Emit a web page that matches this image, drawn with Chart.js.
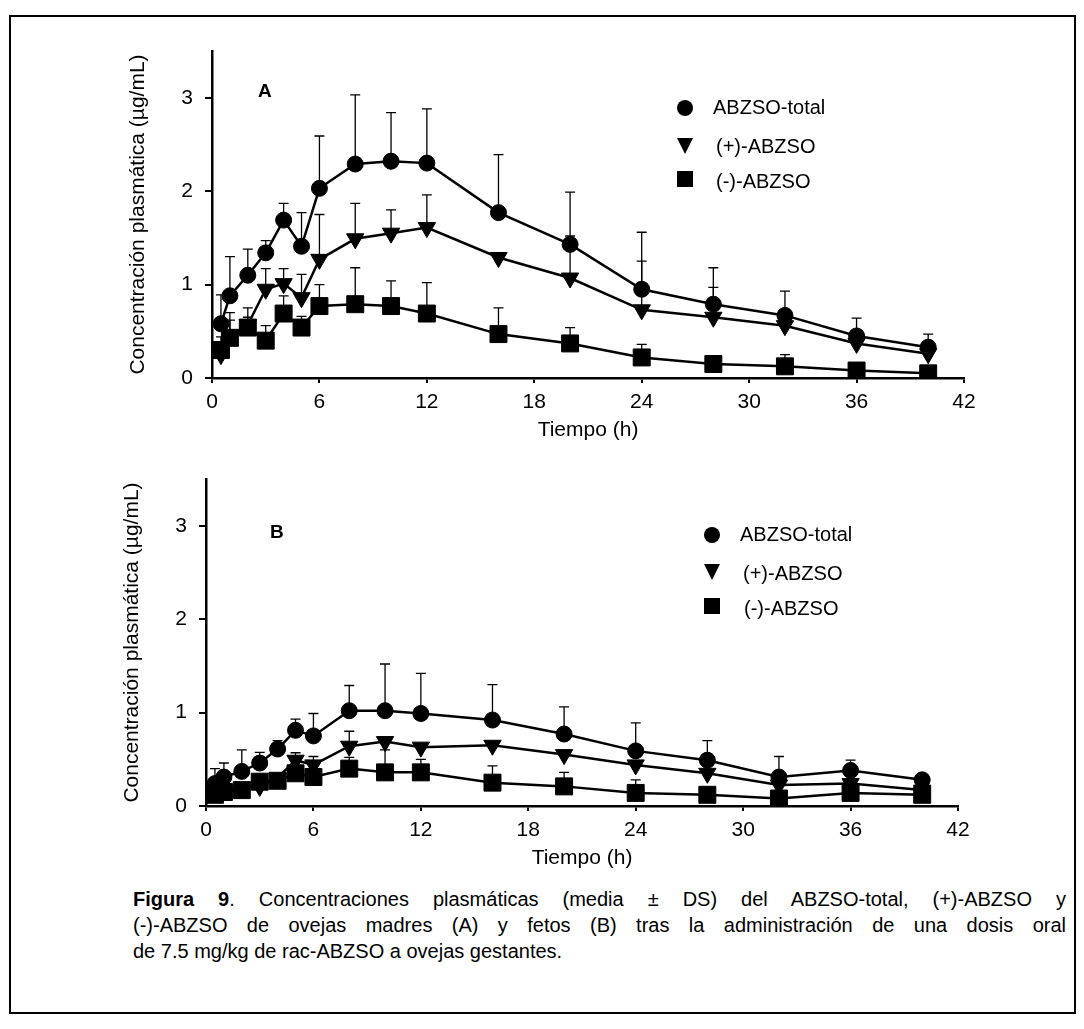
<!DOCTYPE html>
<html>
<head>
<meta charset="utf-8">
<script src="https://cdn.jsdelivr.net/npm/chart.js@4.4.1/dist/chart.umd.min.js"></script>
<style>
  body { margin: 0; background: #fff; }
  #fig { position: relative; width: 1084px; height: 1029px; font-family: Arial, "Liberation Sans", sans-serif; }
  #frame { position: absolute; left: 9px; top: 15px; width: 1067px; height: 999px; border: 2px solid #000; box-sizing: border-box; }
  canvas { position: absolute; left: 0; }
  #chartA { top: 0; }
  #chartB { top: 428px; }
  #caption { position: absolute; left: 133px; top: 886px; width: 933px; font-size: 20px; line-height: 26px; color: #000; }
  #caption div { text-align: justify; text-align-last: justify; white-space: nowrap; }
  #caption div.last { text-align-last: left; }
</style>
</head>
<body>
<div id="fig">
  <div id="frame"></div>
  <canvas id="chartA" width="1084" height="443"></canvas>
  <canvas id="chartB" width="1084" height="443"></canvas>
  <div id="caption">
    <div><b>Figura 9</b>. Concentraciones plasmáticas (media ± DS) del ABZSO-total, (+)-ABZSO y</div>
    <div>(-)-ABZSO de ovejas madres (A) y fetos (B) tras la administración de una dosis oral</div>
    <div class="last">de 7.5 mg/kg de rac-ABZSO a ovejas gestantes.</div>
  </div>
</div>
<script>
const tiempo = [0.5, 1, 2, 3, 4, 5, 6, 8, 10, 12, 16, 20, 24, 28, 32, 36, 40];
const xTicks = [0, 6, 12, 18, 24, 30, 36, 42];
const yTicks = [0, 1, 2, 3];
const series = ['ABZSO-total', '(+)-ABZSO', '(-)-ABZSO'];

// A: ovejas madres (media y extremo superior media+DS)
const totalA = [0.58, 0.88, 1.10, 1.34, 1.69, 1.41, 2.03, 2.29, 2.32, 2.30, 1.77, 1.43, 0.95, 0.79, 0.67, 0.45, 0.33];
const totalA_ds = [0.89, 1.30, 1.38, 1.47, 1.87, 1.77, 2.59, 3.03, 2.84, 2.88, 2.39, 1.99, 1.56, 1.18, 0.93, 0.64, 0.47];
const masA = [0.25, 0.45, 0.57, 0.95, 1.01, 0.86, 1.27, 1.49, 1.55, 1.61, 1.29, 1.07, 0.73, 0.65, 0.56, 0.37, 0.26];
const masA_ds = [null, 0.70, 0.75, 1.17, 1.17, 1.11, 1.75, 1.87, 1.80, 1.96, null, 1.52, 1.25, 0.97, null, null, null];
const menosA = [0.30, 0.43, 0.54, 0.40, 0.69, 0.54, 0.77, 0.79, 0.77, 0.69, 0.47, 0.37, 0.22, 0.15, 0.125, 0.08, 0.05];
const menosA_ds = [0.44, 0.62, 0.65, 0.56, 0.88, 0.66, 1.00, 1.18, 1.04, 1.02, 0.75, 0.54, 0.36, 0.23, 0.25, null, null];

// B: fetos
const totalB = [0.24, 0.31, 0.37, 0.46, 0.61, 0.81, 0.75, 1.02, 1.02, 0.99, 0.92, 0.77, 0.59, 0.49, 0.31, 0.38, 0.28];
const totalB_ds = [0.40, 0.46, 0.60, 0.575, 0.70, 0.93, 0.99, 1.29, 1.52, 1.42, 1.30, 1.06, 0.89, 0.70, 0.53, 0.49, null];
const masB = [0.15, 0.17, 0.20, 0.21, 0.30, 0.49, 0.44, 0.64, 0.69, 0.63, 0.65, 0.55, 0.44, 0.35, 0.225, 0.24, 0.17];
const masB_ds = [null, null, null, null, null, 0.57, 0.53, 0.80, null, null, null, null, null, null, null, null, null];
const menosB = [0.12, 0.15, 0.17, 0.26, 0.27, 0.35, 0.31, 0.40, 0.36, 0.36, 0.25, 0.21, 0.14, 0.12, 0.08, 0.14, 0.12];
const menosB_ds = [null, null, null, null, null, null, null, 0.52, 0.60, 0.50, 0.43, 0.36, 0.28, null, null, null, null];

const fam = 'Arial, "Liberation Sans", sans-serif';
Chart.defaults.font.family = fam;
Chart.defaults.color = '#000';

// barras de error (solo hacia arriba, con tope)
const errorBars = {
  id: 'errorBars',
  beforeDatasetsDraw(chart) {
    const ctx = chart.ctx;
    const y = chart.scales.y;
    ctx.save();
    ctx.strokeStyle = '#000';
    ctx.lineWidth = 1.3;
    chart.data.datasets.forEach((ds, i) => {
      const meta = chart.getDatasetMeta(i);
      ds.errTop.forEach((top, j) => {
        if (top == null) return;
        const p = meta.data[j];
        const yt = y.getPixelForValue(top);
        ctx.beginPath();
        ctx.moveTo(p.x, p.y);
        ctx.lineTo(p.x, yt);
        ctx.moveTo(p.x - 5, yt);
        ctx.lineTo(p.x + 5, yt);
        ctx.stroke();
      });
    });
    ctx.restore();
  }
};

function drawMarker(ctx, kind, x, y) {
  ctx.beginPath();
  if (kind == 'circle') {
    ctx.arc(x, y, 8, 0, Math.PI * 2);
  } else if (kind == 'triangle') {
    ctx.moveTo(x - 8, y - 8);
    ctx.lineTo(x + 8, y - 8);
    ctx.lineTo(x, y + 8);
    ctx.closePath();
  } else {
    ctx.rect(x - 8, y - 8, 16, 16);
  }
  ctx.fill();
}

// letra del panel y leyenda
const panelInfo = {
  id: 'panelInfo',
  afterDraw(chart, args, opts) {
    const ctx = chart.ctx;
    const a = chart.chartArea;
    ctx.save();
    ctx.fillStyle = '#000';
    ctx.textBaseline = 'middle';
    ctx.textAlign = 'left';
    ctx.font = 'bold 19px ' + fam;
    ctx.fillText(opts.letter, a.left + opts.letterX, a.top + opts.letterY);
    ctx.font = '20px ' + fam;
    const kinds = ['circle', 'triangle', 'square'];
    series.forEach((s, i) => {
      drawMarker(ctx, kinds[i], a.left + opts.markX, a.top + opts.markY[i]);
      ctx.fillText(s, a.left + opts.textX[i], a.top + opts.textY[i]);
    });
    ctx.restore();
  }
};

function makeChart(id, d, padLeft, info) {
  const pts = vals => tiempo.map((t, i) => ({ x: t, y: vals[i] }));
  const base = { borderColor: '#000', backgroundColor: '#000', borderWidth: 2.5,
    pointBackgroundColor: '#000', pointBorderColor: '#000', pointBorderWidth: 1, tension: 0 };
  new Chart(document.getElementById(id), {
    type: 'line',
    data: {
      datasets: [
        Object.assign({}, base, { label: series[0], data: pts(d.total), errTop: d.totalDs,
          pointStyle: 'circle', pointRadius: 8, pointHoverRadius: 8, order: 1 }),
        Object.assign({}, base, { label: series[1], data: pts(d.mas), errTop: d.masDs,
          pointStyle: 'triangle', pointRotation: 180, pointRadius: 10, pointHoverRadius: 10, order: 3 }),
        Object.assign({}, base, { label: series[2], data: pts(d.menos), errTop: d.menosDs,
          pointStyle: 'rect', pointRadius: 12, pointHoverRadius: 12, order: 2 })
      ]
    },
    options: {
      responsive: false,
      animation: false,
      events: [],
      layout: { padding: { left: padLeft, right: 1084 - padLeft - 86 - 752, top: 51, bottom: 0 } },
      plugins: { legend: { display: false }, tooltip: { enabled: false }, panelInfo: info },
      scales: {
        x: {
          type: 'linear', min: 0, max: 42,
          afterBuildTicks: s => { s.ticks = xTicks.map(v => ({ value: v })); },
          afterFit: s => { s.height = 65; },
          grid: { drawOnChartArea: false, color: '#000', lineWidth: 2, tickLength: 5 },
          border: { color: '#000', width: 2.5 },
          ticks: { color: '#000', font: { size: 21 }, padding: 7, maxRotation: 0 },
          title: { display: true, text: 'Tiempo (h)', color: '#000', font: { size: 21 }, padding: 0 }
        },
        y: {
          min: 0, max: 3.5,
          afterBuildTicks: s => { s.ticks = yTicks.map(v => ({ value: v })); },
          afterFit: s => { s.width = 86; },
          grid: { drawOnChartArea: false, color: '#000', lineWidth: 2, tickLength: 7 },
          border: { color: '#000', width: 2.5 },
          ticks: { color: '#000', font: { size: 21 }, padding: 12 },
          title: { display: true, text: 'Concentración plasmática (µg/mL)', color: '#000', font: { size: 21 }, padding: 0 }
        }
      }
    },
    plugins: [errorBars, panelInfo]
  });
}

makeChart('chartA', { total: totalA, totalDs: totalA_ds, mas: masA, masDs: masA_ds, menos: menosA, menosDs: menosA_ds }, 126,
  { letter: 'A', letterX: 46, letterY: 41, markX: 473, markY: [57, 95, 128],
    textX: [501, 504, 504], textY: [57, 96, 131] });
makeChart('chartB', { total: totalB, totalDs: totalB_ds, mas: masB, masDs: masB_ds, menos: menosB, menosDs: menosB_ds }, 120,
  { letter: 'B', letterX: 64, letterY: 54, markX: 506, markY: [56, 93, 127],
    textX: [534, 537, 538], textY: [56, 95, 130] });
</script>
</body>
</html>
